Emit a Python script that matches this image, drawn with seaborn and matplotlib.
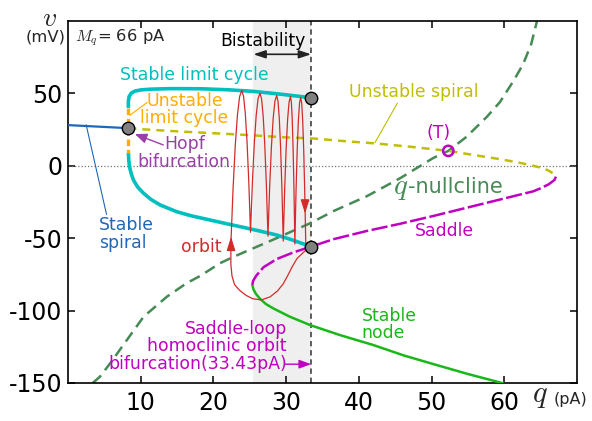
import numpy as np
import pandas as pd
import matplotlib
matplotlib.use("Agg")
import matplotlib.pyplot as plt
import seaborn as sns

# ---------------- data ----------------
spiral_q = [0.0, 8.3]
spiral_v = [28.1, 26.0]

unstable_spiral_q = [8.3, 10, 15, 20, 25, 30, 33.4, 38.8, 42.2, 47, 52.3, 56, 59.4, 62, 64, 65.5, 66.3, 66.85, 67.1]
unstable_spiral_v = [26, 25.3, 23.8, 22.5, 21.2, 19.6, 19, 16.7, 15.5, 13.2, 10.3, 7.3, 4.6, 2.2, 0, -1.9, -3.9, -5.8, -7.5]

saddle_q = [67.1, 66.9, 66.1, 65.0, 64.0, 59.4, 54.8, 50.2, 45.7, 41.1, 36.5, 33.43, 31.0, 28.7, 26.9, 25.9, 25.45, 25.35]
saddle_v = [-7.5, -9.8, -12.8, -15.5, -17.6, -23.3, -29, -34.7, -40, -45, -50.7, -55.8, -59.8, -64.4, -70, -75.8, -79.5, -82.3]

node_q = [25.35, 25.5, 25.85, 26.4, 27.2, 28.2, 30.5, 33.3, 37.4, 42.0, 46.2, 50.7, 55.0, 59.4, 60.0]
node_v = [-82.3, -85.3, -88.5, -91.8, -95.4, -98.4, -104.2, -110.0, -116.9, -123.8, -131.0, -137.6, -143.8, -149.6, -150.5]

lc_up_q = [8.3, 8.3, 8.4, 8.7, 9.2, 10.0, 11.3, 14.0, 18.2, 22.0, 25.5, 29.0, 31.9, 33.43]
lc_up_v = [40.0, 44.5, 47.8, 50.2, 51.6, 52.4, 52.9, 53.3, 53.2, 52.5, 51.4, 49.6, 47.9, 47.0]

lc_lo_q = [8.3, 8.35, 8.45, 8.7, 9.0, 9.6, 10.4, 11.4, 12.65, 14.95, 17.0, 19.5, 22.0, 24.1, 26.5, 28.7, 30.3, 31.9, 33.43]
lc_lo_v = [9.0, 4.5, -0.6, -5.5, -9.8, -14.8, -19.0, -23.2, -27.0, -31.7, -34.6, -37.4, -40.2, -42.5, -45.2, -47.8, -50.3, -53.1, -55.8]

ulc_q = [8.3, 8.3]
ulc_v = [40.0, 9.0]

nc_q = [3.4, 4.4, 5.8, 8.1, 10.4, 13.6, 16.3, 18.2, 20.9, 22.7, 25.0, 28.0, 31.0, 33.3, 36.5, 41.1, 45.7, 50.2, 52.3, 54.8, 57.6, 59.4, 61.3, 62.6, 63.7, 64.5]
nc_v = [-150, -145.6, -136.4, -120.3, -104.2, -90.4, -81.1, -76, -67.3, -63, -58, -51.5, -44.8, -39.7, -31.3, -21, -8.5, 5.3, 10.3, 20, 33.8, 44, 58.9, 70.3, 84, 100]

orbit_q = [33.2, 32.4, 31.5, 30.8, 30.2, 29.6, 28.8, 27.8, 26.6, 25.4, 24.5, 23.6, 22.9, 22.55, 22.4, 22.4,
           22.7, 23.0, 23.3, 23.6, 23.9, 24.14, 24.38, 24.62, 24.86, 25.1,
           25.36, 25.62, 25.88, 26.14, 26.4, 26.62, 26.84, 27.06, 27.28, 27.5,
           27.74, 27.98, 28.22, 28.46, 28.7, 28.88, 29.06, 29.24, 29.42, 29.6,
           29.8, 30.0, 30.2, 30.4, 30.6, 30.72, 30.84, 30.96, 31.08, 31.2,
           31.36, 31.52, 31.68, 31.84, 32.0, 32.14, 32.28, 32.42, 32.56, 32.66, 32.7, 33.0]
orbit_v = [-56.2, -59.7, -64.0, -70.0, -76.0, -81.5, -86.5, -90.5, -92.6, -91.8, -89.5, -86.0, -82.0, -76.0, -68.0, -54,
           -15.8, 13.8, 35.0, 47.8, 52.0, 48.1, 36.3, 16.8, -10.7, -45.9,
           -11.3, 15.6, 34.8, 46.4, 50.2, 46.2, 34.4, 14.6, -13.0, -48.6,
           -13.6, 13.6, 33.0, 44.7, 48.6, 44.6, 32.5, 12.4, -15.8, -52.0,
           -16.0, 11.9, 31.9, 43.9, 47.9, 43.8, 31.6, 11.2, -17.3, -54.0,
           -17.5, 10.8, 31.1, 43.2, 47.3, 43.2, 30.8, 10.2, -18.6, -43.7, -55.7, -56.3]

special_q = [8.3, 33.43, 33.43]
special_v = [26.0, 47.0, -55.8]
T_q = [52.3]
T_v = [10.3]

bist_range = [25.5, 33.43]
x_ticks = [10, 20, 30, 40, 50, 60]
y_ticks = [-150, -100, -50, 0, 50]

# ---------------- colors ----------------
C_CYAN = "#00bfbf"
C_YEL = "#bfbf00"
C_MAG = "#c000c0"
C_NODE = "#18b818"
C_NC = "#468a55"
C_ORB = "#d42a2a"
C_BLUE = "#1f68b8"
C_ORG = "#ffad00"
C_HOPF = "#9b3fa8"

sns.set_theme(style="ticks")
plt.rcParams["font.family"] = ["DejaVu Sans"]
plt.rcParams["mathtext.fontset"] = "cm"
plt.rcParams["axes.unicode_minus"] = False

fig = plt.figure(figsize=(5.92, 4.21), dpi=100)
ax = fig.add_axes([68 / 592, 38 / 421, 509 / 592, 362 / 421])


def curve(q, v, color, lw, dashes=None, z=2):
    sns.lineplot(x=q, y=v, sort=False, estimator=None, color=color, linewidth=lw, ax=ax, zorder=z)
    ln = ax.lines[-1]
    if dashes is not None:
        ln.set_dashes(dashes)
    ln.set_solid_capstyle("butt")
    ln.set_solid_joinstyle("round")
    return ln


ax.axvspan(bist_range[0], bist_range[1], color="#efefef", zorder=0, lw=0)
ax.axhline(0, color="#777777", lw=0.9, ls=(0, (1, 1.6)), zorder=1)
ax.axvline(bist_range[1], color="#333333", lw=1.1, ls=(0, (3.5, 2.5)), zorder=1)

curve(nc_q, nc_v, C_NC, 1.8, dashes=(4.5, 2.6), z=2)
curve(spiral_q, spiral_v, C_BLUE, 1.6, z=3)
curve(unstable_spiral_q, unstable_spiral_v, C_YEL, 1.8, dashes=(3.2, 2.4), z=3)
curve(saddle_q, saddle_v, C_MAG, 1.8, dashes=(6.5, 1.4), z=3)
curve(node_q, node_v, C_NODE, 1.8, z=3)
curve(lc_up_q, lc_up_v, C_CYAN, 2.6, z=3)
curve(lc_lo_q, lc_lo_v, C_CYAN, 2.6, z=3)
curve(ulc_q, ulc_v, C_ORG, 2.4, dashes=(2.0, 1.1), z=4)
curve(orbit_q, orbit_v, C_ORB, 0.9, z=5)

# orbit arrows
ax.annotate("", xy=(22.42, -49), xytext=(22.42, -56),
            arrowprops=dict(arrowstyle="-|>,head_length=0.7,head_width=0.22", color=C_ORB, lw=0.9,
                            shrinkA=0, shrinkB=0), zorder=6)
ax.annotate("", xy=(32.6, -33), xytext=(32.6, -25),
            arrowprops=dict(arrowstyle="-|>,head_length=0.7,head_width=0.22", color=C_ORB, lw=0.9,
                            shrinkA=0, shrinkB=0), zorder=6)

# special points
sns.scatterplot(x=special_q, y=special_v, color="#808080", edgecolor="black", linewidth=1.0,
                s=80, ax=ax, zorder=8)
sns.scatterplot(x=T_q, y=T_v, facecolor="none", edgecolor=C_MAG, linewidth=1.8, s=55, ax=ax, zorder=8)

# axes
ax.set_xlim(0, 70)
ax.set_ylim(-150, 100)
ax.set_xticks(x_ticks)
ax.set_yticks(y_ticks)
ax.set_xlabel("")
ax.set_ylabel("")
ax.tick_params(direction="in", top=True, right=True, length=5, width=1.1, labelsize=17, colors="black")
ax.tick_params(axis="x", pad=6)
ax.tick_params(axis="y", pad=4)
for s in ax.spines.values():
    s.set_visible(True)
    s.set_color("black")
    s.set_linewidth(1.2)

TS = 12.4
# axis labels
fig.text(49 / 592, 1 - 4 / 421, r"$v$", fontsize=20, ha="center", va="top")
ax.text(-3.1, 88.8, "(mV)", fontsize=11.8, ha="center", va="center", clip_on=False)
ax.text(0.96, 88.8, r"$M_q$= 66 pA", fontsize=11.8, ha="left", va="center")
ax.text(64.9, -158.5, r"$q$", fontsize=22, ha="center", va="center", clip_on=False)
ax.text(69.1, -161.3, "(pA)", fontsize=11.5, ha="center", va="center", clip_on=False)

# bistability
ax.text(26.75, 86.5, "Bistability", fontsize=TS, ha="center", va="center", color="black")
ax.annotate("", xy=(bist_range[0], 77), xytext=(bist_range[1], 77),
            arrowprops=dict(arrowstyle="<|-|>,head_length=0.6,head_width=0.2", color="#222222", lw=1.2,
                            shrinkA=0, shrinkB=0))

ax.text(17.3, 62.5, "Stable limit cycle", fontsize=TS, ha="center", va="center", color=C_CYAN)
ax.text(16.0, 39.0, "Unstable\nlimit cycle", fontsize=TS, ha="center", va="center", color=C_ORG,
        linespacing=0.95)
ax.plot([8.5, 10.9], [34.9, 43.8], color=C_ORG, lw=0.8)

ax.text(16.0, 8.8, "Hopf\nbifurcation", fontsize=TS, ha="center", va="center", color=C_HOPF,
        linespacing=0.95)
ax.annotate("", xy=(9.2, 21.9), xytext=(13.1, 14.4),
            arrowprops=dict(arrowstyle="-|>,head_length=0.6,head_width=0.25", color=C_HOPF, lw=1.0,
                            shrinkA=0, shrinkB=0))

ax.text(4.26, -47.0, "Stable\nspiral", fontsize=TS, ha="left", va="center", color=C_BLUE, linespacing=0.95)
ax.plot([2.5, 5.3], [28.3, -33.6], color=C_BLUE, lw=0.8)

ax.text(18.3, -55.8, "orbit", fontsize=TS, ha="center", va="center", color=C_ORB)

ax.text(47.6, 51.0, "Unstable spiral", fontsize=TS, ha="center", va="center", color=C_YEL)
ax.plot([45.3, 42.2], [43.3, 15.9], color=C_YEL, lw=0.8)

ax.text(50.9, 22.8, "(T)", fontsize=TS, ha="center", va="center", color=C_MAG)
ax.text(45.75, -15.5, r"$q$", fontsize=21, ha="center", va="center", color=C_NC)
ax.text(46.75, -14.3, "-nullcline", fontsize=15, ha="left", va="center", color=C_NC)
ax.text(51.7, -44.8, "Saddle", fontsize=TS, ha="center", va="center", color=C_MAG)
ax.text(40.4, -109.5, "Stable\nnode", fontsize=TS, ha="left", va="center", color=C_NODE, linespacing=0.95)

ax.text(30.1, -124.6, "Saddle-loop\nhomoclinic orbit\nbifurcation(33.43pA)", fontsize=TS,
        ha="right", va="center", multialignment="right", color=C_MAG, linespacing=0.95)
ax.annotate("", xy=(bist_range[1], -137), xytext=(29.85, -137),
            arrowprops=dict(arrowstyle="-|>,head_length=0.6,head_width=0.22", color=C_MAG, lw=1.0,
                            shrinkA=0, shrinkB=0))

fig.savefig("out.png", dpi=100)
